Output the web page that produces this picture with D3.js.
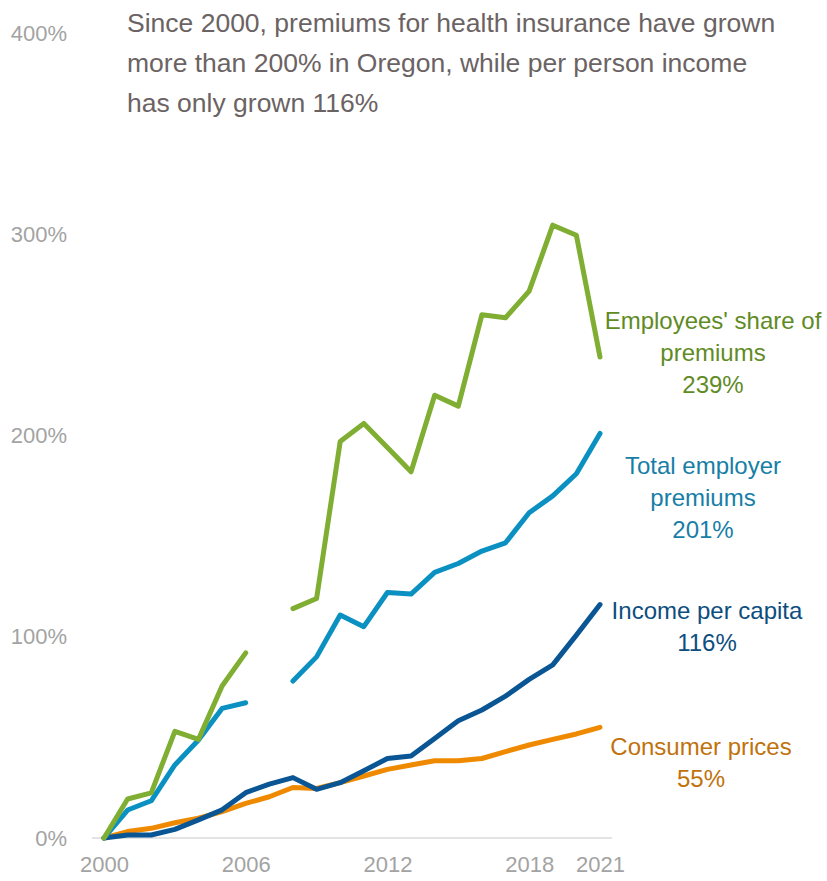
<!DOCTYPE html>
<html>
<head>
<meta charset="utf-8">
<script src="https://cdn.jsdelivr.net/npm/d3@7"></script>
<style>
  html, body { margin: 0; padding: 0; background: #fff; }
  svg { display: block; font-family: "Liberation Sans Narrow", "Arial Narrow", "Liberation Sans", Arial, sans-serif; }
</style>
</head>
<body>
<div id="chart"></div>
<script>
// years on the x axis
const years = d3.range(2000, 2022);
const xTicks = [2000, 2006, 2012, 2018, 2021];
const yTicks = [0, 100, 200, 300, 400];

// cumulative growth since 2000, in percent (null = no data)
const employeeShare = [0, 19.4, 22.4, 53, 49, 75.5, 92, null, 114, 119, 197, 206, 194, 182, 220, 214.6, 260, 258.5, 271.7, 304.5, 299.5, 239];
const employerPremiums = [0, 13.9, 18.5, 36.3, 48.7, 64.4, 67.2, null, 78, 90, 110.8, 105, 122, 121.2, 132, 136.4, 142.6, 146.7, 161.6, 170, 181, 201];
const incomePerCapita = [0, 1.5, 1.5, 4.3, 9, 14, 22.5, 26.8, 30, 24.2, 27.5, 33.4, 39.5, 40.7, 49.5, 58.3, 63.6, 70.5, 78.8, 86, 100.8, 116];
const consumerPrices = [0, 3.2, 4.8, 7.6, 9.8, 13.1, 17.2, 20.5, 25.1, 24.6, 27.5, 30.8, 34.1, 36.3, 38.4, 38.4, 39.5, 42.9, 46.2, 49, 51.7, 55];

const titleLines = [
  "Since 2000, premiums for health insurance have grown",
  "more than 200% in Oregon, while per person income",
  "has only grown 116%"
];

const series = [
  { name: "consumer", values: consumerPrices, color: "#ef8a00", labelColor: "#c0720c",
    label: ["Consumer prices", "55%"], lx: 701, ly: 755 },
  { name: "income", values: incomePerCapita, color: "#0a5694", labelColor: "#0d4e80",
    label: ["Income per capita", "116%"], lx: 707, ly: 619 },
  { name: "employer", values: employerPremiums, color: "#0b90c2", labelColor: "#177ea6",
    label: ["Total employer", "premiums", "201%"], lx: 703, ly: 474 },
  { name: "employee", values: employeeShare, color: "#7fae33", labelColor: "#5f8b25",
    label: ["Employees' share of", "premiums", "239%"], lx: 713, ly: 329 }
];

const width = 827, height = 881;
const marginLeft = 104, marginRight = 227, marginTop = 33, marginBottom = 43;

const x = d3.scaleLinear().domain([2000, 2021]).range([marginLeft, width - marginRight]);
const y = d3.scaleLinear().domain([0, 400]).range([height - marginBottom, marginTop]);

const svg = d3.select("#chart").append("svg")
  .attr("width", width)
  .attr("height", height)
  .attr("viewBox", [0, 0, width, height]);

// baseline
svg.append("line")
  .attr("x1", x(2000) - 12).attr("x2", x(2021) + 12)
  .attr("y1", y(0)).attr("y2", y(0))
  .attr("stroke", "#e3e3e3").attr("stroke-width", 2);

// y axis
svg.append("g")
  .attr("transform", `translate(${marginLeft - 37},0)`)
  .call(d3.axisLeft(y).tickValues(yTicks).tickSize(0).tickPadding(0).tickFormat(d => d + "%"))
  .call(g => g.select(".domain").remove())
  .call(g => g.selectAll("text")
    .attr("fill", "#a3a3a3")
    .attr("font-size", 22)
    .attr("font-family", null));

// x axis
svg.append("g")
  .attr("transform", `translate(0,${y(0) + 18})`)
  .call(d3.axisBottom(x).tickValues(xTicks).tickSize(0).tickPadding(0).tickFormat(d3.format("d")))
  .call(g => g.select(".domain").remove())
  .call(g => g.selectAll("text")
    .attr("fill", "#a3a3a3")
    .attr("font-size", 22)
    .attr("font-family", null));

// lines
const line = d3.line()
  .defined(d => d.v != null)
  .x(d => x(d.year))
  .y(d => y(d.v));

series.forEach(s => {
  const pts = years.map((year, i) => ({ year, v: s.values[i] }));
  svg.append("path")
    .attr("fill", "none")
    .attr("stroke", s.color)
    .attr("stroke-width", 5)
    .attr("stroke-linecap", "round")
    .attr("stroke-linejoin", "round")
    .attr("d", line(pts));

  const t = svg.append("text")
    .attr("text-anchor", "middle")
    .attr("fill", s.labelColor)
    .attr("font-size", 24)
    .attr("x", s.lx)
    .attr("y", s.ly);
  s.label.forEach((l, i) => {
    t.append("tspan").attr("x", s.lx).attr("dy", i === 0 ? 0 : 32).text(l);
  });
});

// title
const title = svg.append("text")
  .attr("fill", "#6b6363")
  .attr("font-size", 26.5)
  .attr("x", 127)
  .attr("y", 32);
titleLines.forEach((l, i) => {
  title.append("tspan").attr("x", 127).attr("dy", i === 0 ? 0 : 40).text(l);
});
</script>
</body>
</html>
